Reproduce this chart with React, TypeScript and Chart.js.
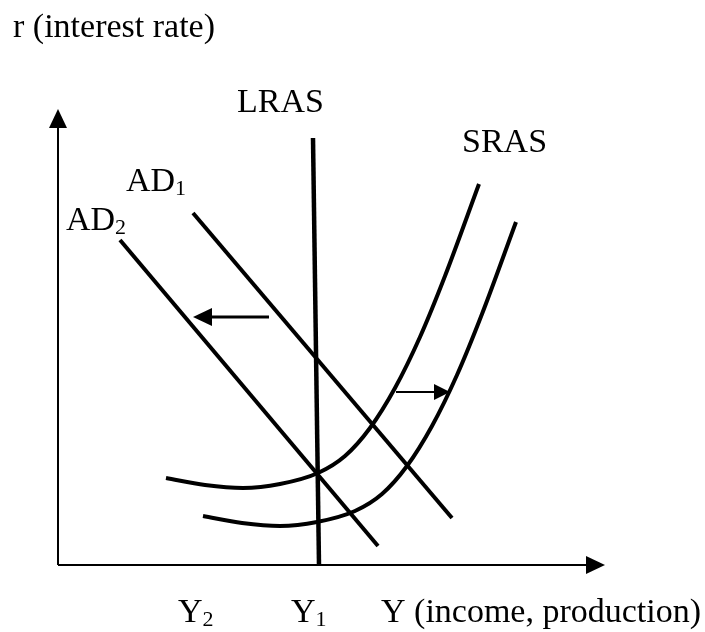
import { useEffect, useRef } from "react";
import { Chart, registerables } from "chart.js";

Chart.register(...registerables);

// Data space: origin at the axes' intersection, x to the right, y upward.
const X_MIN = -58;
const X_MAX = 647;
const Y_MIN = -67;
const Y_MAX = 565;

const AXIS_X_END = 547;
const AXIS_Y_END = 456;

const LRAS_X = [255, 261];
const LRAS_Y = [427, 0];

const AD1_X = [135, 394];
const AD1_Y = [352, 47];

const AD2_X = [62, 320];
const AD2_Y = [325, 19];

const SRAS1_X = [108, 147, 185, 222, 260, 287, 312, 337, 362, 387, 421];
const SRAS1_Y = [87, 80, 77, 81, 92, 109, 137, 177, 228, 289, 381];

const SRAS2_X = [145, 184, 222, 259, 297, 324, 349, 374, 399, 424, 458];
const SRAS2_Y = [49, 42, 39, 43, 54, 71, 99, 139, 190, 251, 343];

// shift arrows: [fromX, fromY, toX, toY]
const AD_SHIFT = [211, 248, 135, 248];
const AS_SHIFT = [338, 173, 392, 173];

const LABEL_TEXTS = ["r (interest rate)", "LRAS", "SRAS", "AD", "AD", "Y", "Y", "Y (income, production)"];
const LABEL_SUBS = ["", "", "", "1", "2", "2", "1", ""];
const LABEL_X = [-45, 179, 404, 68, 8, 120, 233, 323];
const LABEL_Y = [528, 453, 413, 374, 335, -57, -57, -57];

function pts(xs: number[], ys: number[]) {
  return xs.map((x, i) => ({ x, y: ys[i] }));
}

const FONT = "34px 'Liberation Serif', 'Times New Roman', serif";
const SUB_FONT = "22px 'Liberation Serif', 'Times New Roman', serif";

const overlay = {
  id: "overlay",
  afterDatasetsDraw(chart: any) {
    const ctx = chart.ctx as CanvasRenderingContext2D;
    const sx = chart.scales.x;
    const sy = chart.scales.y;
    const px = (v: number) => sx.getPixelForValue(v);
    const py = (v: number) => sy.getPixelForValue(v);

    const arrow = (x0: number, y0: number, x1: number, y1: number, lw: number, hl: number, hw: number) => {
      const X0 = px(x0), Y0 = py(y0), X1 = px(x1), Y1 = py(y1);
      const ang = Math.atan2(Y1 - Y0, X1 - X0);
      const bx = X1 - Math.cos(ang) * hl;
      const by = Y1 - Math.sin(ang) * hl;
      ctx.save();
      ctx.strokeStyle = "#000";
      ctx.fillStyle = "#000";
      ctx.lineWidth = lw;
      ctx.beginPath();
      ctx.moveTo(X0, Y0);
      ctx.lineTo(bx, by);
      ctx.stroke();
      ctx.beginPath();
      ctx.moveTo(X1, Y1);
      ctx.lineTo(bx + Math.sin(ang) * hw, by - Math.cos(ang) * hw);
      ctx.lineTo(bx - Math.sin(ang) * hw, by + Math.cos(ang) * hw);
      ctx.closePath();
      ctx.fill();
      ctx.restore();
    };

    // axes
    arrow(0, 0, 0, AXIS_Y_END, 2, 19, 9);
    arrow(0, 0, AXIS_X_END, 0, 2, 19, 9);
    // shifts
    arrow(AD_SHIFT[0], AD_SHIFT[1], AD_SHIFT[2], AD_SHIFT[3], 3, 19, 9);
    arrow(AS_SHIFT[0], AS_SHIFT[1], AS_SHIFT[2], AS_SHIFT[3], 2, 16, 8);

    // labels
    ctx.save();
    ctx.fillStyle = "#000";
    ctx.textBaseline = "alphabetic";
    ctx.textAlign = "left";
    LABEL_TEXTS.forEach((t, i) => {
      const X = px(LABEL_X[i]);
      const Y = py(LABEL_Y[i]);
      ctx.font = FONT;
      ctx.fillText(t, X, Y);
      if (LABEL_SUBS[i]) {
        const w = ctx.measureText(t).width;
        ctx.font = SUB_FONT;
        ctx.fillText(LABEL_SUBS[i], X + w, Y + 4);
      }
    });
    ctx.restore();
  },
};

export default function App() {
  const ref = useRef<HTMLCanvasElement | null>(null);

  useEffect(() => {
    if (!ref.current) return;
    const lineDs = (data: any[], width: number, smooth: boolean) => ({
      data,
      showLine: true,
      borderColor: "#000",
      backgroundColor: "#000",
      borderWidth: width,
      pointRadius: 0,
      fill: false,
      clip: false,
      borderCapStyle: "butt",
      cubicInterpolationMode: smooth ? "monotone" : "default",
      tension: 0,
    });
    const chart = new Chart(ref.current, {
      type: "scatter",
      data: {
        datasets: [
          lineDs(pts(LRAS_X, LRAS_Y), 4.5, false),
          lineDs(pts(AD1_X, AD1_Y), 4, false),
          lineDs(pts(AD2_X, AD2_Y), 4, false),
          lineDs(pts(SRAS1_X, SRAS1_Y), 4, true),
          lineDs(pts(SRAS2_X, SRAS2_Y), 4, true),
        ] as any,
      },
      options: {
        animation: false,
        responsive: false,
        devicePixelRatio: 1,
        layout: { padding: 0 },
        events: [],
        scales: {
          x: { type: "linear", min: X_MIN, max: X_MAX, display: false },
          y: { type: "linear", min: Y_MIN, max: Y_MAX, display: false },
        },
        plugins: {
          legend: { display: false },
          tooltip: { enabled: false },
          title: { display: false },
        },
      },
      plugins: [overlay],
    });
    return () => chart.destroy();
  }, []);

  return (
    <div style={{ position: "fixed", left: 0, top: 0, width: 705, height: 632, background: "#fff" }}>
      <canvas ref={ref} width={705} height={632} style={{ display: "block" }} />
    </div>
  );
}
